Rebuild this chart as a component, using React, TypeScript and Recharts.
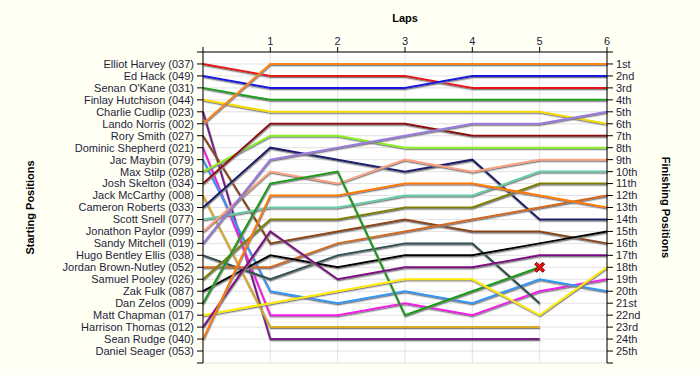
import { LineChart, Line, XAxis, YAxis, CartesianGrid } from 'recharts';

const laps = [0, 1, 2, 3, 4, 5, 6];

const startNames = [
  'Elliot Harvey (037)', 'Ed Hack (049)', "Senan O'Kane (031)", 'Finlay Hutchison (044)',
  'Charlie Cudlip (023)', 'Lando Norris (002)', 'Rory Smith (027)', 'Dominic Shepherd (021)',
  'Jac Maybin (079)', 'Max Stilp (028)', 'Josh Skelton (034)', 'Jack McCarthy (008)',
  'Cameron Roberts (033)', 'Scott Snell (077)', 'Jonathon Paylor (099)', 'Sandy Mitchell (019)',
  'Hugo Bentley Ellis (038)', 'Jordan Brown-Nutley (052)', 'Samuel Pooley (026)', 'Zak Fulk (087)',
  'Dan Zelos (009)', 'Matt Chapman (017)', 'Harrison Thomas (012)', 'Sean Rudge (040)',
  'Daniel Seager (053)',
];

const finishLabels = [
  '1st', '2nd', '3rd', '4th', '5th', '6th', '7th', '8th', '9th', '10th', '11th', '12th', '13th',
  '14th', '15th', '16th', '17th', '18th', '19th', '20th', '21st', '22nd', '23rd', '24th', '25th',
];

// position at each lap, lap 0 = grid slot; null = no longer running
const elliotHarvey = [1, 2, 2, 2, 3, 3, 3];
const edHack = [2, 3, 3, 3, 2, 2, 2];
const senanOKane = [3, 4, 4, 4, 4, 4, 4];
const finlayHutchison = [4, 5, 5, 5, 5, 5, 6];
const charlieCudlip = [5, 24, 24, 24, 24, 24, null];
const landoNorris = [6, 1, 1, 1, 1, 1, 1];
const rorySmith = [7, 16, 15, 14, 15, 15, 16];
const dominicShepherd = [8, 22, 22, 21, 22, 20, 19];
const jacMaybin = [9, 20, 21, 20, 21, 19, 20];
const maxStilp = [10, 7, 7, 8, 8, 8, 8];
const joshSkelton = [11, 6, 6, 6, 7, 7, 7];
const jackMcCarthy = [12, 23, 23, 23, 23, 23, null];
const cameronRoberts = [13, 8, 9, 10, 9, 14, 14];
const scottSnell = [14, 13, 13, 12, 12, 10, 10];
const jonathonPaylor = [15, 10, 11, 9, 10, 9, 9];
const sandyMitchell = [16, 9, 8, 7, 6, 6, 5];
const hugoBentleyEllis = [17, 19, 17, 16, 16, 21, null];
const jordanBrownNutley = [18, 18, 16, 15, 14, 13, 12];
const samuelPooley = [19, 14, 14, 13, 13, 11, 11];
const zakFulk = [20, 17, 18, 17, 17, 16, 15];
const danZelos = [21, 11, 10, 22, 20, 18, null];
const mattChapman = [22, 21, 20, 19, 19, 22, 18];
const harrisonThomas = [23, 15, 19, 18, 18, 17, 17];
const seanRudge = [24, 12, 12, 11, 11, 12, 13];

const drivers = [
  { key: 'd037', pos: elliotHarvey, color: '#E41818' },
  { key: 'd049', pos: edHack, color: '#1414DC' },
  { key: 'd031', pos: senanOKane, color: '#1E9E1E' },
  { key: 'd044', pos: finlayHutchison, color: '#F5DC00' },
  { key: 'd023', pos: charlieCudlip, color: '#7A1A8A' },
  { key: 'd002', pos: landoNorris, color: '#FA8418' },
  { key: 'd027', pos: rorySmith, color: '#8B4513' },
  { key: 'd021', pos: dominicShepherd, color: '#F21AE8' },
  { key: 'd079', pos: jacMaybin, color: '#3396F2' },
  { key: 'd028', pos: maxStilp, color: '#8CF020' },
  { key: 'd034', pos: joshSkelton, color: '#8B0A0A' },
  { key: 'd008', pos: jackMcCarthy, color: '#DAAA28' },
  { key: 'd033', pos: cameronRoberts, color: '#1E1E6E' },
  { key: 'd077', pos: scottSnell, color: '#6ACBAA' },
  { key: 'd099', pos: jonathonPaylor, color: '#FAA282' },
  { key: 'd019', pos: sandyMitchell, color: '#9A7ADC' },
  { key: 'd038', pos: hugoBentleyEllis, color: '#2F4F4F' },
  { key: 'd052', pos: jordanBrownNutley, color: '#D2691E' },
  { key: 'd026', pos: samuelPooley, color: '#808000' },
  { key: 'd087', pos: zakFulk, color: '#000000' },
  { key: 'd009', pos: danZelos, color: '#139A13' },
  { key: 'd017', pos: mattChapman, color: '#FFEA00' },
  { key: 'd012', pos: harrisonThomas, color: '#7E0A84' },
  { key: 'd040', pos: seanRudge, color: '#FF7A00' },
];

const rows = laps.map((lap, i) => {
  const row: Record<string, number | null> = { lap };
  drivers.forEach(d => { row[d.key] = d.pos[i]; });
  return row;
});

const posTicks = Array.from({ length: 27 }, (_, i) => i);
const tickStyle = { fontSize: 11, fill: '#1E1E3C' };
const titleStyle = { fontSize: 11, fontWeight: 'bold', fill: '#000' };

// red cross where Dan Zelos retired
const RetiredMark = (props: any) => {
  const { cx, cy, index } = props;
  if (index !== 5 || cx == null) return <g key={`m${index}`} />;
  const s = 5, w = 2;
  const d = `M${cx - s} ${cy - s + w} L${cx - s + w} ${cy - s} L${cx} ${cy - w} L${cx + s - w} ${cy - s} L${cx + s} ${cy - s + w}
    L${cx + w} ${cy} L${cx + s} ${cy + s - w} L${cx + s - w} ${cy + s} L${cx} ${cy + w} L${cx - s + w} ${cy + s}
    L${cx - s} ${cy + s - w} L${cx - w} ${cy} Z`;
  return <path key={`m${index}`} d={d} fill="#F01010" stroke="#7A0000" strokeWidth={1} />;
};

export default function App() {
  return (
    <div style={{ width: 700, height: 375, background: '#FFFFF4', fontFamily: '"Liberation Sans", Arial, sans-serif' }}>
      <style>{`body{margin:0} .recharts-line-curve{filter:url(#lapShadow)}`}</style>
      <svg width={0} height={0} style={{ position: 'absolute' }}>
        <defs>
          <filter id="lapShadow" filterUnits="userSpaceOnUse" x={0} y={0} width={700} height={375}>
            <feDropShadow dx={0.5} dy={1.3} stdDeviation={0.3} floodColor="#808080" floodOpacity={1} />
          </filter>
        </defs>
      </svg>
      <LineChart width={700} height={375} data={rows} margin={{ top: 0, right: 0, bottom: 12, left: 0 }}>
        <CartesianGrid yAxisId="left" stroke="#E2E2E2" fill="#FFFFFF" />
        <XAxis
          dataKey="lap" type="number" domain={[0, 6]} ticks={laps} orientation="top" height={52}
          interval={0} tickSize={5} tickMargin={2} stroke="#000" tick={tickStyle}
          tickFormatter={(v: number) => (v === 0 ? '' : String(v))}
          label={{ value: 'Laps', position: 'center', dy: -8, ...titleStyle }}
        />
        <YAxis
          yAxisId="left" type="number" domain={[0, 26]} reversed ticks={posTicks} width={203}
          interval={0} tickSize={6} tickMargin={3} stroke="#000" tick={tickStyle}
          tickFormatter={(v: number) => startNames[v - 1] ?? ''}
          label={{ value: 'Starting Positions', angle: -90, position: 'center', dx: -71, ...titleStyle }}
        />
        <YAxis
          yAxisId="right" orientation="right" type="number" domain={[0, 26]} reversed ticks={posTicks} width={93}
          interval={0} tickSize={6} tickMargin={3} stroke="#000" tick={tickStyle}
          tickFormatter={(v: number) => finishLabels[v - 1] ?? ''}
          label={{ value: 'Finishing Positions', angle: 90, position: 'center', dx: 12, ...titleStyle }}
        />
        {drivers.map(d => (
          <Line
            key={d.key} yAxisId={d.key === 'd002' ? 'right' : 'left'} type="linear" dataKey={d.key}
            stroke={d.color} strokeWidth={2}
            dot={d.key === 'd009' ? RetiredMark : false} activeDot={false} isAnimationActive={false}
          />
        ))}
      </LineChart>
    </div>
  );
}
